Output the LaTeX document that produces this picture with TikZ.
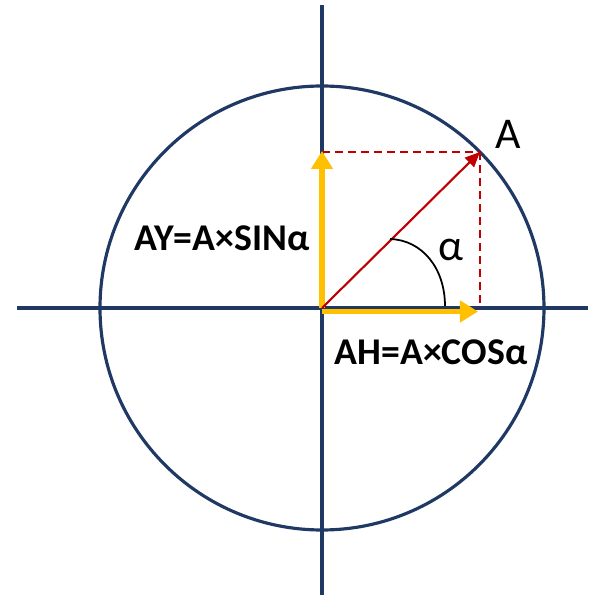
\documentclass[tikz,border=0pt]{standalone}
\usepackage{fontspec}
\setmainfont{Carlito}
\usetikzlibrary{arrows.meta}

\definecolor{axisblue}{HTML}{1F3864}
\definecolor{vecred}{HTML}{C00000}
\definecolor{compyellow}{HTML}{FFC000}

\begin{document}
\begin{tikzpicture}[
  x=0.02cm, y=0.02cm,
  axis/.style={draw=axisblue, line width=1.8pt},
  vecarrow/.style={draw=vecred, line width=1.2pt, -{Triangle[length=0.3cm, width=0.26cm]}},
  comparrow/.style={draw=compyellow, line width=3.4pt, -{Triangle[length=0.36cm, width=0.42cm]}},
  projline/.style={draw=vecred, line width=1.2pt, dash pattern=on 0.16cm off 0.1cm},
  anglearc/.style={draw=black, line width=1pt},
  lbl/.style={font=\fontsize{25}{30}\selectfont},
  eqlbl/.style={font=\fontsize{21.5}{26}\selectfont\bfseries},
]
\useasboundingbox (-322,-290) rectangle (278,308);

%% ── Key points ───────────────────────────────────────────────────────────
\coordinate (O)    at (0,    0);
\coordinate (A)    at (158,  156);
\coordinate (Y)    at (0,    157);
\coordinate (H)    at (156,  0);
\coordinate (Aup)  at (158,  0);
\coordinate (xl)   at (-305, 0);
\coordinate (xr)   at (266,  0);
\coordinate (yt)   at (0,    303);
\coordinate (yb)   at (0,   -287);
\coordinate (arcS) at (123,  2);
\coordinate (arcE) at (68,   69);

%% ── Axes and unit circle ─────────────────────────────────────────────────
\draw[axis] (xl) -- (xr);
\draw[axis] (yt) -- (yb);
\draw[axis] (O) circle (222);

%% ── Projections ──────────────────────────────────────────────────────────
\draw[projline] (0,156) -- (A);
\draw[projline] (A) -- (Aup);

%% ── Components ───────────────────────────────────────────────────────────
\draw[comparrow] (O) -- (Y);
\draw[comparrow] ([yshift=-0.07cm]O) -- ([yshift=-0.07cm]H);

%% ── Vector and angle ─────────────────────────────────────────────────────
\draw[vecarrow] (O) -- (A);
\draw[anglearc] (arcS) .. controls (123,40) and (100,68) .. (arcE);

%% ── Labels ───────────────────────────────────────────────────────────────
\node[lbl]   (labA)  at (186, 174) {A};
\node[lbl]   (alpha) at (129, 58)  {α};
\node[eqlbl] (ay)    at (-100, 70) {AY=A×SINα};
\node[eqlbl] (ah)    at (109, -44) {AH=A×COSα};

\end{tikzpicture}
\end{document}
